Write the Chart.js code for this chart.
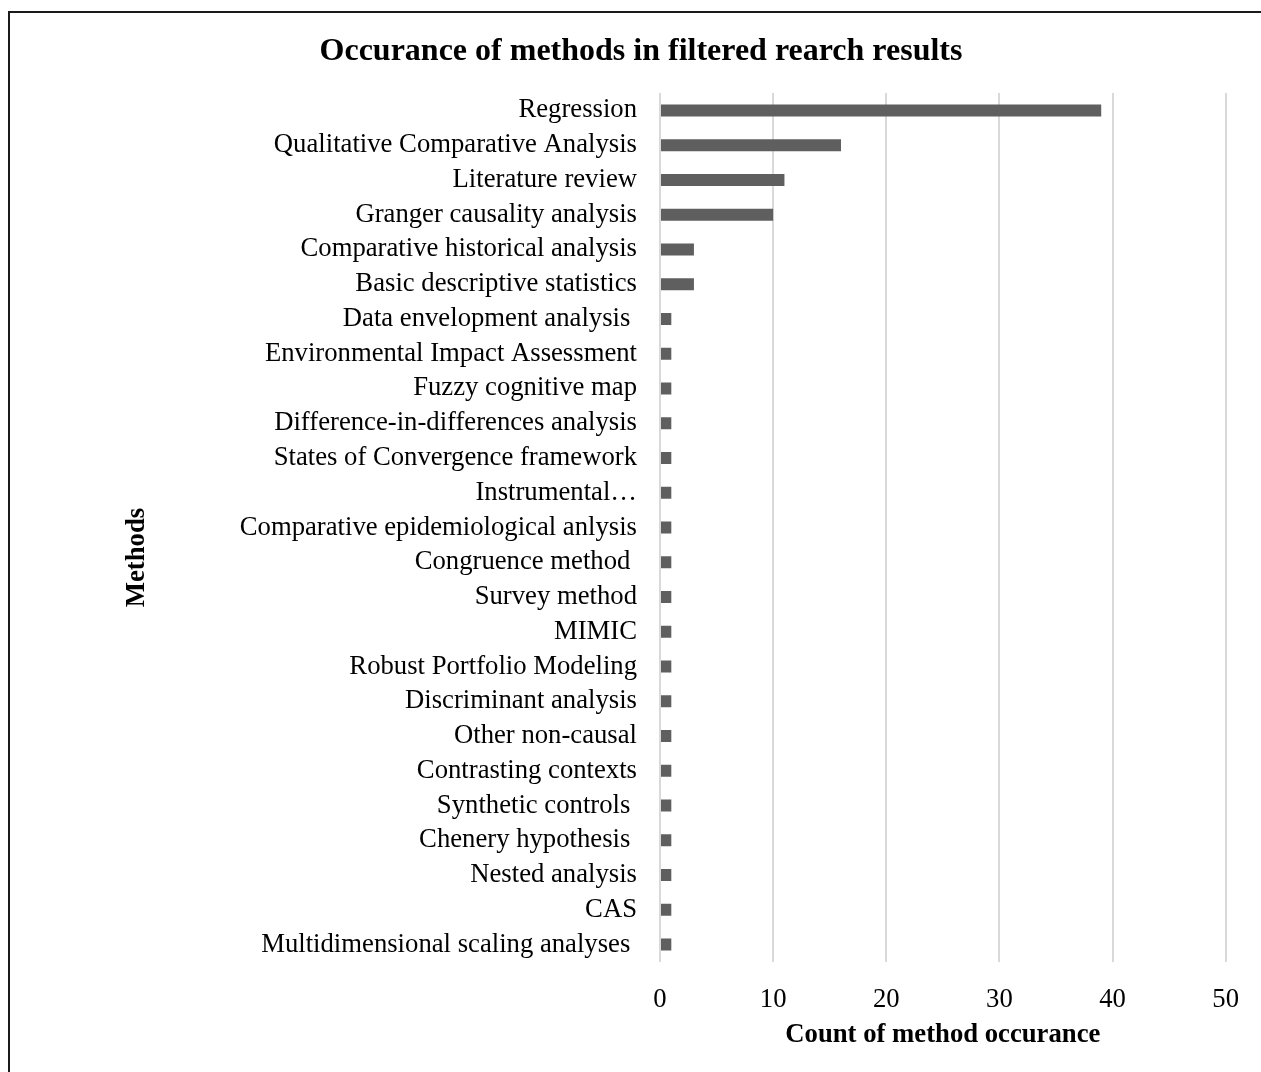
<!DOCTYPE html>
<html>
<head>
<meta charset="utf-8">
<script src="https://cdn.jsdelivr.net/npm/chart.js@4/dist/chart.umd.min.js"></script>
<style>
  html, body { margin: 0; padding: 0; background: #fff; overflow: hidden; }
  #frame {
    position: absolute; left: 8px; top: 11px; width: 1400px; height: 1200px;
    border-left: 2px solid #1a1a1a; border-top: 2px solid #1a1a1a;
  }
  #wrap { position: absolute; left: 0; top: 0; width: 1261px; height: 1072px; }
</style>
</head>
<body>
<div id="frame"></div>
<div id="wrap"><canvas id="chart" width="1261" height="1072"></canvas></div>
<script>
// Methods found in the filtered search results and how often each occurs
const methods = [
  'Regression',
  'Qualitative Comparative Analysis',
  'Literature review',
  'Granger causality analysis',
  'Comparative historical analysis',
  'Basic descriptive statistics',
  'Data envelopment analysis ',
  'Environmental Impact Assessment',
  'Fuzzy cognitive map',
  'Difference-in-differences analysis',
  'States of Convergence framework',
  'Instrumental\u2026',
  'Comparative epidemiological anlysis',
  'Congruence method ',
  'Survey method',
  'MIMIC',
  'Robust Portfolio Modeling',
  'Discriminant analysis',
  'Other non-causal',
  'Contrasting contexts',
  'Synthetic controls ',
  'Chenery hypothesis ',
  'Nested analysis',
  'CAS',
  'Multidimensional scaling analyses '
];
const occurrences = [39, 16, 11, 10, 3, 3, 1, 1, 1, 1, 1, 1, 1, 1, 1, 1, 1, 1, 1, 1, 1, 1, 1, 1, 1];
const countTicks = [0, 10, 20, 30, 40, 50];
const methodsAxisTitle = 'Methods';

const serif = "'Liberation Serif', 'Times New Roman', Times, serif";
const labelSize = 26.7;

// Vertical axis title, drawn a little below the middle of the plot
const methodsTitle = {
  id: 'methodsTitle',
  afterDraw(chart) {
    const { ctx, chartArea, scales } = chart;
    const x = scales.y.left + 81;
    const y = (chartArea.top + chartArea.bottom) / 2 + 30;
    ctx.save();
    ctx.translate(x, y);
    ctx.rotate(-Math.PI / 2);
    ctx.font = `bold ${labelSize}px ${serif}`;
    ctx.fillStyle = '#000';
    ctx.textAlign = 'center';
    ctx.textBaseline = 'middle';
    ctx.fillText(methodsAxisTitle, 0, 0);
    ctx.restore();
  }
};

new Chart(document.getElementById('chart'), {
  type: 'bar',
  data: {
    labels: methods,
    datasets: [{
      data: occurrences,
      backgroundColor: '#5f5f5f',
      categoryPercentage: 1,
      barPercentage: 0.345
    }]
  },
  plugins: [methodsTitle],
  options: {
    indexAxis: 'y',
    responsive: false,
    animation: false,
    layout: { padding: { left: 56, right: 35, top: 0, bottom: 0 } },
    plugins: {
      legend: { display: false },
      tooltip: { enabled: false },
      title: {
        display: true,
        text: 'Occurance of methods in filtered rearch results',
        color: '#000',
        font: { family: serif, size: 32, weight: 'bold' },
        padding: { top: 33, bottom: 21.6 }
      }
    },
    scales: {
      x: {
        min: countTicks[0],
        max: countTicks[countTicks.length - 1],
        afterBuildTicks: (axis) => { axis.ticks = countTicks.map(v => ({ value: v })); },
        grid: { color: '#d9d9d9', lineWidth: 2, drawTicks: false },
        border: { display: false },
        ticks: {
          color: '#000',
          font: { family: serif, size: labelSize },
          padding: 22
        },
        title: {
          display: true,
          text: 'Count of method occurance',
          color: '#000',
          font: { family: serif, size: labelSize, weight: 'bold' },
          padding: { top: 0, bottom: 21 }
        },
        afterFit: (axis) => { axis.height = 110; }
      },
      y: {
        grid: { display: false, drawTicks: false },
        border: { display: false },
        ticks: {
          color: '#000',
          autoSkip: false,
          font: { family: serif, size: labelSize },
          padding: 23
        },
        title: { display: false },
        afterFit: (axis) => { axis.width = 604; }
      }
    }
  }
});
</script>
</body>
</html>
